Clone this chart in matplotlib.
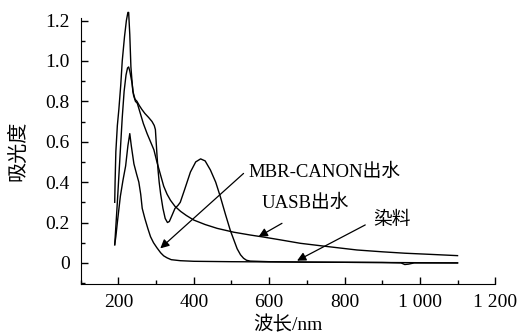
import matplotlib
matplotlib.use('Agg')
import matplotlib.pyplot as plt
from matplotlib.ticker import MultipleLocator

plt.rcParams['font.family'] = ['Liberation Serif', 'Noto Sans CJK SC']
plt.rcParams['axes.unicode_minus'] = False

# 染料
wl_dye = [190, 191, 193, 197, 201, 206, 210, 216, 221, 225, 227, 230, 233, 238,
          244, 249, 255, 262, 270, 280, 289, 295, 298, 300, 302, 305, 308, 312,
          318, 324, 330, 335, 342, 350, 358, 364, 375, 391, 405, 418, 430, 444,
          458, 470, 484, 497, 506, 515, 524, 532, 540, 550, 600, 700, 800, 900,
          950, 960, 970, 985, 1000, 1100]
abs_dye = [0.30, 0.40, 0.55, 0.68, 0.76, 0.88, 1.00, 1.12, 1.20, 1.24, 1.24, 1.13,
           0.97, 0.85, 0.81, 0.80, 0.78, 0.76, 0.74, 0.72, 0.70, 0.68, 0.66, 0.60,
           0.54, 0.46, 0.40, 0.34, 0.27, 0.22, 0.20, 0.205, 0.235, 0.27, 0.285,
           0.30, 0.36, 0.45, 0.50, 0.515, 0.505, 0.46, 0.40, 0.33, 0.24, 0.16,
           0.115, 0.07, 0.04, 0.023, 0.013, 0.009, 0.006, 0.004, 0.003, 0.002,
           0.0, -0.008, -0.006, 0.0, 0.0, 0.0]

# UASB出水
wl_uasb = [190, 193, 197, 201, 205, 210, 215, 220, 224, 227, 230, 233, 236, 240,
           245, 250, 258, 266, 276, 285, 294, 302, 311, 320, 329, 338, 350, 365,
           380, 400, 430, 462, 506, 550, 585, 630, 683, 750, 833, 900, 960, 1020,
           1100]
abs_uasb = [0.09, 0.18, 0.30, 0.43, 0.56, 0.72, 0.85, 0.93, 0.965, 0.97, 0.95,
            0.92, 0.89, 0.83, 0.80, 0.79, 0.74, 0.69, 0.64, 0.60, 0.56, 0.50,
            0.44, 0.38, 0.34, 0.31, 0.28, 0.255, 0.235, 0.212, 0.19, 0.171,
            0.152, 0.138, 0.128, 0.114, 0.097, 0.082, 0.064, 0.055, 0.048,
            0.043, 0.036]

# MBR-CANON出水
wl_mbr = [190, 193, 197, 205, 212, 219, 225, 230, 234, 241, 248, 254, 259, 263,
          270, 278, 285, 293, 302, 312, 320, 329, 340, 364, 400, 500, 600, 700,
          800, 900, 1000, 1100]
abs_mbr = [0.09, 0.13, 0.20, 0.33, 0.41, 0.48, 0.58, 0.64, 0.58, 0.49, 0.44,
           0.40, 0.34, 0.27, 0.22, 0.17, 0.13, 0.10, 0.075, 0.05, 0.035, 0.025,
           0.016, 0.011, 0.008, 0.006, 0.005, 0.004, 0.003, 0.002, 0.001, 0.0]

x_ticks = [200, 400, 600, 800, 1000, 1200]
x_labels = ['200', '400', '600', '800', '1 000', '1 200']
y_ticks = [0, 0.2, 0.4, 0.6, 0.8, 1.0, 1.2]
y_labels = ['0', '0.2', '0.4', '0.6', '0.8', '1.0', '1.2']

fig = plt.figure(figsize=(5.18, 3.36), dpi=100)
ax = fig.add_axes([0.156, 0.155, 0.80, 0.79])

for wl, a in [(wl_dye, abs_dye), (wl_uasb, abs_uasb), (wl_mbr, abs_mbr)]:
    ax.plot(wl, a, color='black', lw=1.0, clip_on=False)

ax.set_xlim(100, 1200)
ax.set_ylim(-0.104, 1.21)
ax.set_xticks(x_ticks)
ax.set_xticklabels(x_labels)
ax.set_yticks(y_ticks)
ax.set_yticklabels(y_labels)
ax.xaxis.set_minor_locator(MultipleLocator(100))
ax.yaxis.set_minor_locator(MultipleLocator(0.1))
ax.tick_params(which='both', direction='in', labelsize=14, width=1.0)
ax.tick_params(which='major', length=5)
ax.tick_params(axis='y', which='major', pad=8)
ax.tick_params(axis='x', which='major', pad=7)
ax.tick_params(which='minor', length=3)
ax.spines['top'].set_visible(False)
ax.spines['right'].set_visible(False)

ax.set_xlabel('波长/nm', fontsize=14, labelpad=4)
ax.set_ylabel('吸光度', fontsize=14.5, labelpad=12)

arrow = dict(arrowstyle='-|>', color='black', lw=0.9, mutation_scale=13,
             shrinkA=0, shrinkB=0)
ax.text(545, 0.45, 'MBR-CANON出水', fontsize=13.5, ha='left', va='center')
ax.annotate('', xy=(311, 0.072), xytext=(532, 0.443), arrowprops=arrow)
ax.text(581, 0.295, 'UASB出水', fontsize=13.5, ha='left', va='center')
ax.annotate('', xy=(572, 0.13), xytext=(634, 0.196), arrowprops=arrow)
ax.text(876, 0.212, '染料', fontsize=13.5, ha='left', va='center')
ax.annotate('', xy=(674, 0.011), xytext=(855, 0.188), arrowprops=arrow)

fig.savefig('out.png', dpi=100)
